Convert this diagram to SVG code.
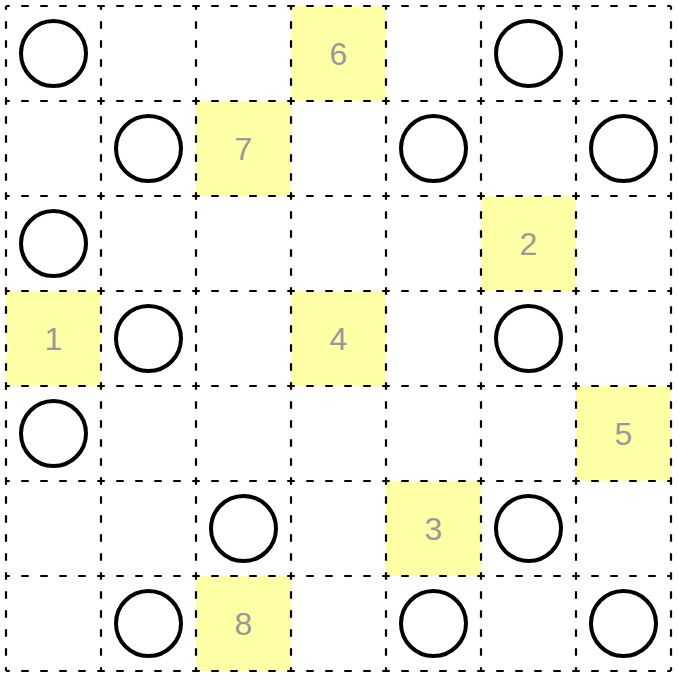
<svg xmlns="http://www.w3.org/2000/svg" width="678" height="678" viewBox="0 0 678 678">
<style>
.y{fill:#ffffa6;stroke:none}
.c{fill:none;stroke:#000;stroke-width:4}
.t{font-family:"Liberation Sans",Arial,sans-serif;font-size:32px;fill:#999;text-anchor:middle;dominant-baseline:central}
.g{stroke:#000;stroke-width:2.2;stroke-dasharray:7.5 11.5;stroke-dashoffset:3.75;fill:none}
</style>
<rect width="678" height="678" fill="#fff"/>
<g id="clues">
<g id="n6"><rect class="y" x="291" y="6" width="95" height="95"/><text class="t" x="338.5" y="53.5">6</text></g>
<g id="n7"><rect class="y" x="196" y="101" width="95" height="95"/><text class="t" x="243.5" y="148.5">7</text></g>
<g id="n2"><rect class="y" x="481" y="196" width="95" height="95"/><text class="t" x="528.5" y="243.5">2</text></g>
<g id="n1"><rect class="y" x="6" y="291" width="95" height="95"/><text class="t" x="53.5" y="338.5">1</text></g>
<g id="n4"><rect class="y" x="291" y="291" width="95" height="95"/><text class="t" x="338.5" y="338.5">4</text></g>
<g id="n5"><rect class="y" x="576" y="386" width="95" height="95"/><text class="t" x="623.5" y="433.5">5</text></g>
<g id="n3"><rect class="y" x="386" y="481" width="95" height="95"/><text class="t" x="433.5" y="528.5">3</text></g>
<g id="n8"><rect class="y" x="196" y="576" width="95" height="95"/><text class="t" x="243.5" y="623.5">8</text></g>
</g>
<g id="grid" class="g">
<path d="M6 6H671M6 101H671M6 196H671M6 291H671M6 386H671M6 481H671M6 576H671M6 671H671"/>
<path d="M6 6V671M101 6V671M196 6V671M291 6V671M386 6V671M481 6V671M576 6V671M671 6V671"/>
</g>
<g id="circles">
<circle class="c" cx="53.5" cy="53.5" r="32.5"/>
<circle class="c" cx="528.5" cy="53.5" r="32.5"/>
<circle class="c" cx="148.5" cy="148.5" r="32.5"/>
<circle class="c" cx="433.5" cy="148.5" r="32.5"/>
<circle class="c" cx="623.5" cy="148.5" r="32.5"/>
<circle class="c" cx="53.5" cy="243.5" r="32.5"/>
<circle class="c" cx="148.5" cy="338.5" r="32.5"/>
<circle class="c" cx="528.5" cy="338.5" r="32.5"/>
<circle class="c" cx="53.5" cy="433.5" r="32.5"/>
<circle class="c" cx="243.5" cy="528.5" r="32.5"/>
<circle class="c" cx="528.5" cy="528.5" r="32.5"/>
<circle class="c" cx="148.5" cy="623.5" r="32.5"/>
<circle class="c" cx="433.5" cy="623.5" r="32.5"/>
<circle class="c" cx="623.5" cy="623.5" r="32.5"/>
</g>
</svg>
